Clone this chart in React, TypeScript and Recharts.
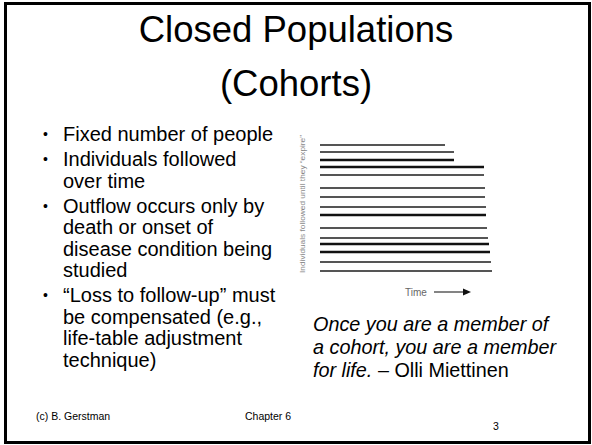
import { LineChart, Line, XAxis, YAxis } from 'recharts';

// rows (top → bottom) and the time each person leaves
const rowPos = [0, 7, 15, 22, 30, 43, 52, 62, 70, 83, 93, 99, 107, 117, 126];
const exitTime = [125, 134, 134, 164, 164, 165, 165, 166, 166, 167, 168, 169, 170, 171, 172];

const bullets = [
  ['Fixed number of people'],
  ['Individuals followed', 'over time'],
  ['Outflow occurs only by', 'death or onset of', 'disease condition being', 'studied'],
  ['\u201cLoss to follow-up\u201d must', 'be compensated (e.g.,', 'life-table adjustment', 'technique)'],
];

const yLabel = 'Individuals followed until they \u201cexpire\u201d';

// a few of the lines are printed darker in the original figure
const darkLines = new Set([2, 3, 8, 11, 12]);

const font = '"Liberation Sans", Arial, sans-serif';

const TimeLabel = ({ viewBox }: any) => {
  const x = viewBox.x + 85;
  const y = viewBox.y + 21;
  return (
    <g>
      <text x={x} y={y} dy="0.35em" fontSize={10} fill="#666" fontFamily={font}>
        Time
      </text>
      <line x1={x + 29} x2={x + 60} y1={y} y2={y} stroke="#333" strokeWidth={1.2} />
      <polygon points={`${x + 58},${y - 3.5} ${x + 66},${y} ${x + 58},${y + 3.5}`} fill="#111" />
    </g>
  );
};

const IndividualsLabel = ({ viewBox }: any) => {
  const cx = viewBox.x + 22;
  const cy = viewBox.y + 59;
  return (
    <text
      x={cx}
      y={cy}
      transform={`rotate(-90 ${cx} ${cy})`}
      textAnchor="middle"
      dy="0.35em"
      fontSize={8}
      fill="#888"
      fontFamily={font}
      textLength={138}
      lengthAdjust="spacingAndGlyphs"
    >
      {yLabel}
    </text>
  );
};

function CohortChart() {
  return (
    <LineChart width={220} height={180} margin={{ top: 15, right: 0, bottom: 9, left: 0 }}>
      <XAxis
        type="number"
        dataKey="t"
        domain={[0, 180]}
        height={30}
        tick={false}
        tickLine={false}
        axisLine={false}
        label={<TimeLabel />}
      />
      <YAxis
        type="number"
        dataKey="pos"
        domain={[0, 126]}
        reversed
        width={40}
        tick={false}
        tickLine={false}
        axisLine={false}
        label={<IndividualsLabel />}
      />
      {rowPos.map((pos, i) => (
        <Line
          key={i}
          data={[
            { t: 0, pos },
            { t: exitTime[i], pos },
          ]}
          dataKey="pos"
          stroke={darkLines.has(i) ? '#111' : '#555'}
          strokeWidth={darkLines.has(i) ? 2.6 : 2}
          dot={false}
          activeDot={false}
          isAnimationActive={false}
        />
      ))}
    </LineChart>
  );
}

export default function App() {
  return (
    <div
      style={{
        position: 'absolute',
        left: 0,
        top: 0,
        width: 592,
        height: 445,
        background: '#fff',
        fontFamily: font,
        color: '#000',
      }}
    >
      <div
        style={{
          position: 'absolute',
          left: 4,
          top: 2,
          width: 587,
          height: 442,
          border: '3px solid #000',
          boxSizing: 'border-box',
        }}
      />
      <div
        style={{
          position: 'absolute',
          left: 0,
          top: 3,
          width: 592,
          textAlign: 'center',
          fontSize: 36.5,
          lineHeight: '54px',
        }}
      >
        Closed Populations
        <br />
        (Cohorts)
      </div>

      <div style={{ position: 'absolute', left: 31, top: 124, width: 250, fontSize: 20, lineHeight: '21.5px' }}>
        {bullets.map((lines, i) => (
          <div key={i} style={{ position: 'relative', paddingLeft: 32, marginBottom: 3.5 }}>
            <span style={{ position: 'absolute', left: 12, top: 0, fontSize: 14 }}>{'\u2022'}</span>
            {lines.map((l, j) => (
              <div key={j} style={{ whiteSpace: 'nowrap' }}>
                {l}
              </div>
            ))}
          </div>
        ))}
      </div>

      <div style={{ position: 'absolute', left: 280, top: 130 }}>
        <CohortChart />
      </div>

      <div style={{ position: 'absolute', left: 313, top: 313, fontSize: 19.8, lineHeight: '23px', whiteSpace: 'nowrap' }}>
        <i>Once you are a member of</i>
        <br />
        <i>a cohort, you are a member</i>
        <br />
        <i>for life.</i> {'\u2013'} Olli Miettinen
      </div>

      <div style={{ position: 'absolute', left: 36, top: 410, fontSize: 10.5 }}>(c) B. Gerstman</div>
      <div style={{ position: 'absolute', left: 245, top: 410, fontSize: 10.5 }}>Chapter 6</div>
      <div style={{ position: 'absolute', left: 493, top: 420, fontSize: 10.5 }}>3</div>
    </div>
  );
}
